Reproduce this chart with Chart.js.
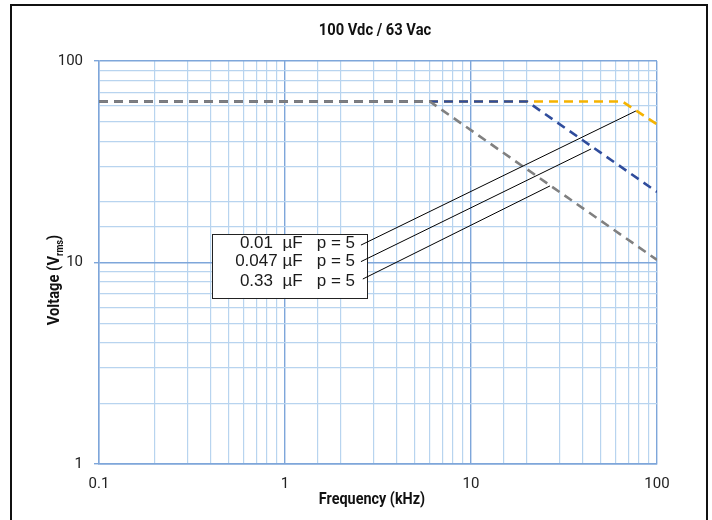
<!DOCTYPE html>
<html>
<head>
<meta charset="utf-8">
<script src="https://cdn.jsdelivr.net/npm/chart.js@4/dist/chart.umd.min.js"></script>
<style>
    html, body { margin: 0; padding: 0; background: #fff; overflow: hidden; }
    #wrap { position: relative; width: 712px; height: 520px; }
    #frame { position: absolute; left: 10px; top: 4px; width: 698px; height: 540px; border: 2.5px solid #111; box-sizing: border-box; }
    canvas { position: absolute; left: 0; top: 0; }
</style>
</head>
<body>
<div id="wrap">
    <div id="frame"></div>
    <canvas id="chart" width="712" height="520"></canvas>
</div>
<script>
// Rated voltage curves, frequency in kHz and voltage in Vrms
const freq033 = [0.1, 6, 100];
const volt033 = [63, 63, 10.3];
const freq047 = [0.1, 20, 100];
const volt047 = [63, 63, 22.4];
const freq001 = [0.1, 65, 100];
const volt001 = [63, 63, 48.5];

// Leader lines from the label box to each curve
const leaderFreq = [[2.56, 77], [2.56, 44.2], [2.62, 26.6]];
const leaderVolt = [[12.2, 56.5], [10.1, 36.6], [8.28, 24.0]];

// Label box: corners and text anchor, in data units
const boxFreq = [0.405, 2.76];
const boxVolt = [13.85, 6.67];
const labelFreq = 2.38;
const labelVolt = [12.4, 10.1, 8.1];
const labelTexts = ['0.01  µF   p = 5', '0.047 µF   p = 5', '0.33  µF   p = 5'];

const chartTitle = '100 Vdc / 63 Vac';
const xTitle = 'Frequency (kHz)';

const MAJOR = '#7ea6da';
const MINOR = '#b8d4ef';

function isDecade(v) {
    var l = Math.log10(v);
    return Math.abs(l - Math.round(l)) < 1e-6;
}

function fmt(v) {
    return v < 1 ? v.toFixed(1) : String(Math.round(v));
}

function points(xs, ys) {
    return xs.map((x, i) => ({x: x, y: ys[i]}));
}

function curve(xs, ys, color, order) {
    return {
        data: points(xs, ys),
        borderColor: color,
        borderWidth: 2.6,
        borderDash: [9, 6],
        pointRadius: 0,
        order: order
    };
}

var datasets = [
    curve(freq033, volt033, '#808080', 1),
    curve(freq047, volt047, '#2f4c9c', 2),
    curve(freq001, volt001, '#f5b300', 3)
];
for (var i = 0; i < leaderFreq.length; i++) {
    datasets.push({
        data: points(leaderFreq[i], leaderVolt[i]),
        borderColor: '#000',
        borderWidth: 1,
        pointRadius: 0,
        order: 0
    });
}

// condensed bold text, squeezed horizontally
function squeezed(ctx, txt, x, y, size, sx) {
    ctx.save();
    ctx.translate(x, y);
    ctx.scale(sx, 1);
    ctx.font = 'bold ' + size + 'px Roboto';
    ctx.fillText(txt, 0, 0);
    ctx.restore();
}

// Titles, rotated y title with subscript, and the label box
const decor = {
    id: 'decor',
    beforeDatasetsDraw(chart) {
        var ctx = chart.ctx;
        var xs = chart.scales.x, ys = chart.scales.y;
        var l = xs.getPixelForValue(boxFreq[0]), r = xs.getPixelForValue(boxFreq[1]);
        var t = ys.getPixelForValue(boxVolt[0]), b = ys.getPixelForValue(boxVolt[1]);
        ctx.save();
        ctx.fillStyle = '#fff';
        ctx.fillRect(l, t, r - l, b - t);
        ctx.strokeStyle = '#222';
        ctx.lineWidth = 1;
        ctx.strokeRect(Math.round(l) + 0.5, Math.round(t) + 0.5, Math.round(r - l), Math.round(b - t));
        ctx.fillStyle = '#1a1a1a';
        ctx.font = '17px "Liberation Sans", Arial, sans-serif';
        ctx.textAlign = 'right';
        ctx.textBaseline = 'middle';
        var tx = xs.getPixelForValue(labelFreq);
        labelTexts.forEach((txt, k) => ctx.fillText(txt, tx, ys.getPixelForValue(labelVolt[k])));
        ctx.restore();
    },
    afterDraw(chart) {
        var ctx = chart.ctx;
        var area = chart.chartArea;
        var cx = (area.left + area.right) / 2;
        ctx.save();
        ctx.fillStyle = '#111';
        ctx.textAlign = 'center';
        ctx.textBaseline = 'middle';
        squeezed(ctx, chartTitle, cx - 3, 31, 16, 0.92);
        squeezed(ctx, xTitle, cx - 6, 500, 16, 0.9);

        ctx.translate(55, 280);
        ctx.rotate(-Math.PI / 2);
        ctx.scale(0.92, 1);
        ctx.textAlign = 'left';
        var main = 'Voltage (V', sub = 'rms', end = ')';
        ctx.font = 'bold 16px Roboto';
        var wMain = ctx.measureText(main).width;
        var wEnd = ctx.measureText(end).width;
        ctx.font = 'bold 10px Roboto';
        var wSub = ctx.measureText(sub).width;
        var u = -(wMain + wSub + wEnd) / 2;
        ctx.font = 'bold 16px Roboto';
        ctx.fillText(main, u, 0);
        ctx.font = 'bold 10px Roboto';
        ctx.fillText(sub, u + wMain, 5);
        ctx.font = 'bold 16px Roboto';
        ctx.fillText(end, u + wMain + wSub, 0);
        ctx.restore();
    }
};

new Chart(document.getElementById('chart').getContext('2d'), {
    type: 'line',
    data: { datasets: datasets },
    plugins: [decor],
    options: {
        responsive: false,
        animation: false,
        layout: { padding: { left: 0, right: 55, top: 61, bottom: 0 } },
        plugins: {
            legend: { display: false },
            tooltip: { enabled: false }
        },
        scales: {
            x: {
                type: 'logarithmic',
                min: 0.1,
                max: 100,
                afterFit: (s) => { s.height = 56; },
                grid: {
                    color: (c) => isDecade(c.tick.value) ? MAJOR : MINOR,
                    lineWidth: (c) => isDecade(c.tick.value) ? 1.4 : 1.2,
                    drawTicks: false
                },
                border: { color: MAJOR, width: 1.4 },
                ticks: {
                    autoSkip: false,
                    maxRotation: 0,
                    padding: 11,
                    color: '#222',
                    font: { family: 'Roboto', size: 15 },
                    callback: (v) => isDecade(v) ? fmt(v) : ''
                }
            },
            y: {
                type: 'logarithmic',
                min: 1,
                max: 100,
                afterFit: (s) => { s.width = 99; },
                grid: {
                    color: (c) => isDecade(c.tick.value) ? MAJOR : MINOR,
                    lineWidth: (c) => isDecade(c.tick.value) ? 1.4 : 1.2,
                    tickLength: 5,
                    tickColor: (c) => isDecade(c.tick.value) ? MAJOR : 'rgba(0,0,0,0)'
                },
                border: { color: MAJOR, width: 1.4 },
                ticks: {
                    autoSkip: false,
                    padding: 11,
                    color: '#222',
                    font: { family: 'Roboto', size: 15 },
                    callback: (v) => isDecade(v) ? fmt(v) : ''
                }
            }
        }
    }
});
</script>
</body>
</html>
